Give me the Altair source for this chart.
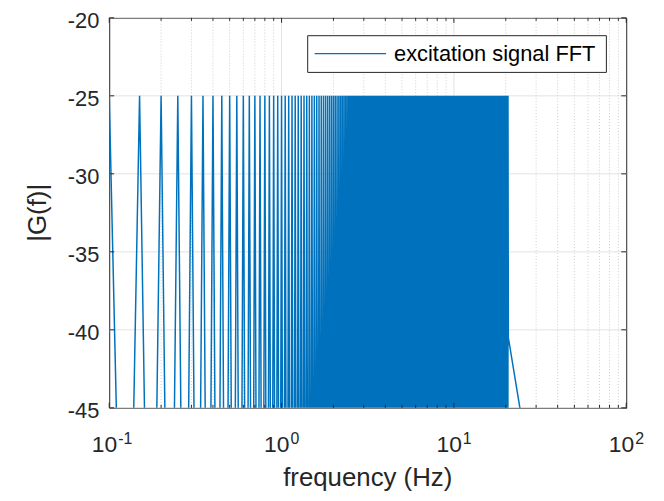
import altair as alt
import numpy as np
import pandas as pd

# ---- data ----
# excitation lines: every 0.05 Hz from 0.10 Hz to 20.60 Hz, all at about -25 dB;
# between lines the spectrum falls far below the -45 dB floor of the axis
LINE_START_HZ = 0.10
LINE_STEP_HZ = 0.05
LINE_COUNT = 411
PEAK_DB = -25.0
TROUGH_DB = -72.0
# roll-off after the last excited line
TAIL_HZ = [20.70, 24.4, 30.0]
TAIL_DB = [-40.5, -45.3, -48.0]

X_TICKS = [0.1, 1, 10, 100]
X_MAJOR_GRID = [1, 10]
X_BASE = ["10", "10", "10", "10"]
X_EXP = ["-1", "0", "1", "2"]
X_MINOR = [0.2, 0.3, 0.4, 0.5, 0.6, 0.7, 0.8, 0.9,
           2, 3, 4, 5, 6, 7, 8, 9,
           20, 30, 40, 50, 60, 70, 80, 90]
Y_TICKS = [-45, -40, -35, -30, -25, -20]
Y_LABELS = ["-45", "-40", "-35", "-30", "-25", "-20"]

LEGEND_LABEL = "excitation signal FFT"
X_TITLE = "frequency (Hz)"
Y_TITLE = "|G(f)|"

# ---- build the table ----
peaks = LINE_START_HZ + LINE_STEP_HZ * np.arange(LINE_COUNT)
f_list, db_list = [], []
for i, p in enumerate(peaks):
    f_list.append(p)
    db_list.append(PEAK_DB)
    if i < LINE_COUNT - 1:
        f_list.append(p + LINE_STEP_HZ / 2)
        db_list.append(TROUGH_DB)
f_list += TAIL_HZ
db_list += TAIL_DB
spec = pd.DataFrame({"f": f_list, "db": db_list})

W, H = 521, 393
FONT = "Liberation Sans"
TXT = "#262626"
BLUE = "#0072BD"
GRID = "#e2e2e2"

xs = alt.Scale(type="log", domain=[0.1, 100], nice=False)
ys = alt.Scale(domain=[-45, -20], nice=False, zero=False)

one = pd.DataFrame({"k": [0]})
ytick_df = pd.DataFrame({"v": Y_TICKS, "lab": Y_LABELS})
minor_df = pd.DataFrame({"f": X_MINOR})
major_tick_df = pd.DataFrame({"f": X_TICKS})
major_grid_df = pd.DataFrame({"f": X_MAJOR_GRID})

y_grid = alt.Chart(ytick_df).mark_rule(color=GRID, strokeWidth=1).encode(
    y=alt.Y("v:Q", scale=ys, axis=None))
x_grid = alt.Chart(major_grid_df).mark_rule(color=GRID, strokeWidth=1).encode(
    x=alt.X("f:Q", scale=xs, axis=None))
minor_grid = alt.Chart(minor_df).mark_rule(color="#cfcfcf", strokeDash=[1, 2], strokeWidth=1).encode(
    x=alt.X("f:Q", scale=xs, axis=None))

line = alt.Chart(spec).mark_line(clip=True, color=BLUE, strokeWidth=1.5).encode(
    x=alt.X("f:Q", scale=xs, axis=None),
    y=alt.Y("db:Q", scale=ys, axis=None),
    order="f:Q",
)

x_ticks_bot = alt.Chart(major_tick_df).mark_rule(color=TXT, strokeWidth=1).encode(
    x=alt.X("f:Q", scale=xs, axis=None), y=alt.value(H), y2=alt.value(H - 5))
x_ticks_top = alt.Chart(major_tick_df).mark_rule(color=TXT, strokeWidth=1).encode(
    x=alt.X("f:Q", scale=xs, axis=None), y=alt.value(0), y2=alt.value(5))
x_minor_bot = alt.Chart(minor_df).mark_rule(color=TXT, strokeWidth=1).encode(
    x=alt.X("f:Q", scale=xs, axis=None), y=alt.value(H), y2=alt.value(H - 3))
x_minor_top = alt.Chart(minor_df).mark_rule(color=TXT, strokeWidth=1).encode(
    x=alt.X("f:Q", scale=xs, axis=None), y=alt.value(0), y2=alt.value(3))
y_ticks_l = alt.Chart(ytick_df).mark_rule(color=TXT, strokeWidth=1).encode(
    y=alt.Y("v:Q", scale=ys, axis=None), x=alt.value(0), x2=alt.value(5))
y_ticks_r = alt.Chart(ytick_df).mark_rule(color=TXT, strokeWidth=1).encode(
    y=alt.Y("v:Q", scale=ys, axis=None), x=alt.value(W - 5), x2=alt.value(W))

y_labels = alt.Chart(ytick_df).mark_text(font=FONT, fontSize=22, color=TXT, align="right",
                                         baseline="middle", dy=3).encode(
    y=alt.Y("v:Q", scale=ys, axis=None), x=alt.value(-10), text="lab:N")

lab_df = pd.DataFrame({"f": X_TICKS, "base": X_BASE, "exp": X_EXP})
x_base = alt.Chart(lab_df).mark_text(font=FONT, fontSize=23, color=TXT, align="right",
                                     baseline="alphabetic", dx=8).encode(
    x=alt.X("f:Q", scale=xs, axis=None), y=alt.value(438), text="base:N")
x_exp = alt.Chart(lab_df).mark_text(font=FONT, fontSize=16, color=TXT, align="left",
                                    baseline="alphabetic", dx=9).encode(
    x=alt.X("f:Q", scale=xs, axis=None), y=alt.value(429), text="exp:N")

x_title = alt.Chart(one).mark_text(font=FONT, fontSize=26, color=TXT, align="center",
                                   baseline="alphabetic").encode(
    x=alt.value(W / 2), y=alt.value(472), text=alt.value(X_TITLE))
y_title = alt.Chart(one).mark_text(font=FONT, fontSize=26, color=TXT, align="center",
                                   baseline="middle", angle=270).encode(
    x=alt.value(-72), y=alt.value(H / 2), text=alt.value(Y_TITLE))

leg_box = alt.Chart(one).mark_rect(fill="white", stroke=TXT, strokeWidth=1).encode(
    x=alt.value(200), x2=alt.value(501), y=alt.value(18), y2=alt.value(55))
leg_line = alt.Chart(one).mark_rule(color=BLUE, strokeWidth=1.2).encode(
    x=alt.value(207), x2=alt.value(279), y=alt.value(36))
leg_text = alt.Chart(one).mark_text(font=FONT, fontSize=22, color="#000000", align="left",
                                    baseline="middle").encode(
    x=alt.value(287), y=alt.value(36.5), text=alt.value(LEGEND_LABEL))

chart = alt.layer(
    y_grid, x_grid, minor_grid, line,
    x_ticks_bot, x_ticks_top, x_minor_bot, x_minor_top, y_ticks_l, y_ticks_r,
    y_labels, x_base, x_exp, x_title, y_title, leg_box, leg_line, leg_text,
).properties(
    width=W, height=H,
    autosize=alt.AutoSizeParams(type="none"),
    padding={"left": 102, "top": 8, "right": 30, "bottom": 92},
    background="white",
).configure_view(stroke=TXT, strokeWidth=1)

chart.save("out.html", embed_options={"renderer": "svg", "actions": False})
